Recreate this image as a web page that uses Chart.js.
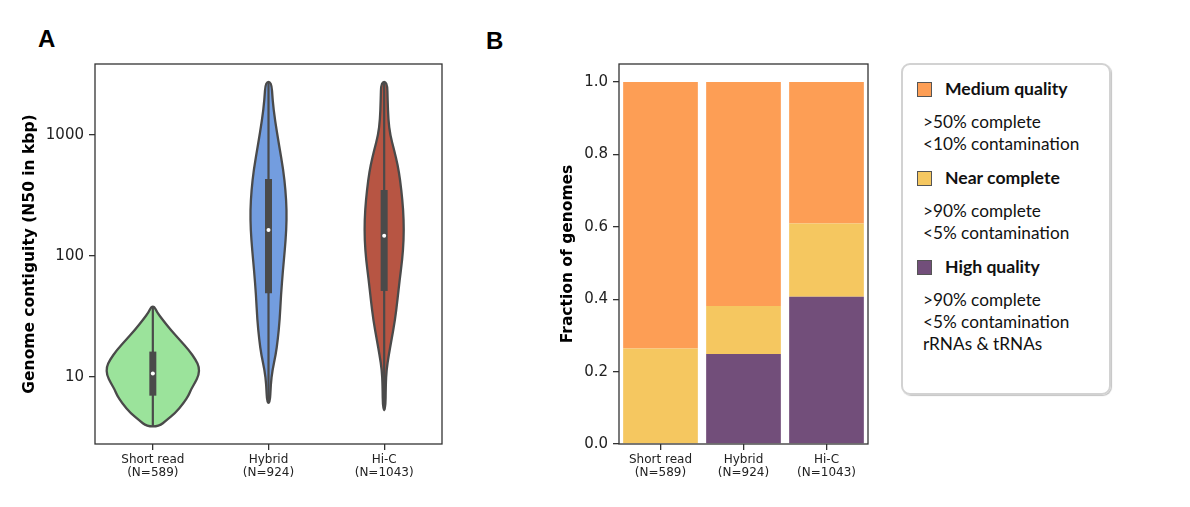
<!DOCTYPE html>
<html><head><meta charset="utf-8">
<script src="https://cdn.jsdelivr.net/npm/chart.js@4/dist/chart.umd.min.js"></script>
<style>
html,body{margin:0;padding:0;background:#fff;width:1190px;height:507px;overflow:hidden;position:relative;}
#wrapA{position:absolute;left:0;top:0;width:460px;height:507px;}
#wrapB{position:absolute;left:470px;top:0;width:420px;height:507px;}
.plabel{position:absolute;font-family:"Liberation Sans",Arial,sans-serif;font-weight:bold;font-size:24px;line-height:24px;color:#000;}
#legend{position:absolute;left:901px;top:63px;width:210px;height:332px;border:2px solid #d2d2d2;border-radius:9px;box-sizing:border-box;box-shadow:1px 1px 1px #c4c4c4;font-family:Lato,"Open Sans",sans-serif;color:#111;padding-top:13px;}
.litem{margin-top:12px;}
.litem:first-child{margin-top:0;}
.lhead{position:relative;height:22px;line-height:22px;font-weight:bold;font-size:17.6px;padding-left:42px;white-space:nowrap;}
.lsw{position:absolute;left:14px;top:4px;width:13px;height:13px;border:1px solid #555;}
.lnotes{margin-top:11px;padding-left:20px;font-size:17.2px;line-height:22px;white-space:nowrap;}
</style></head>
<body>
<div class="plabel" style="left:38px;top:27px;">A</div>
<div class="plabel" style="left:486px;top:29px;">B</div>
<div id="wrapA"><canvas id="chartA" width="460" height="507"></canvas></div>
<div id="wrapB"><canvas id="chartB" width="420" height="507"></canvas></div>
<div id="legend"></div>
<script>
// ---------- Panel A data (violin outlines) ----------
const violinCategories = ['Short read', 'Hybrid', 'Hi-C'];
const genomeCounts = [589, 924, 1043];

// N50 levels (kbp) along each violin, top to bottom, and half-widths (category units)
const shortReadN50 = [38.2, 34.4, 29.6, 24.4, 20.2, 16.7, 13.8, 12.1, 10.4, 8.9, 7.8, 7.1, 6.1, 5.0, 4.4, 3.9];
const shortReadWidth = [0.013, 0.035, 0.086, 0.156, 0.233, 0.311, 0.372, 0.400, 0.398, 0.363, 0.328, 0.311, 0.268, 0.190, 0.121, 0.052];

const hybridN50 = [2755, 1946, 1331, 827, 514, 351, 240, 164, 112, 76.6, 47.6, 29.6, 20.2, 15.2, 11.4, 8.6, 6.1];
const hybridWidth = [0.026, 0.035, 0.056, 0.091, 0.128, 0.147, 0.157, 0.154, 0.141, 0.125, 0.108, 0.097, 0.080, 0.062, 0.034, 0.019, 0.013];

const hicN50 = [2755, 1946, 1331, 1000, 752, 565, 425, 290, 199, 136, 92.7, 63.4, 43.3, 29.6, 20.2, 15.2, 11.4, 8.6, 5.3];
const hicWidth = [0.026, 0.030, 0.036, 0.052, 0.086, 0.117, 0.138, 0.158, 0.169, 0.169, 0.156, 0.134, 0.115, 0.094, 0.063, 0.040, 0.020, 0.014, 0.011];

const boxQ1 = [7.0, 49.2, 51.4];
const boxMedian = [10.7, 164, 147];
const boxQ3 = [16.2, 433, 351];
const yTicksA = [10, 100, 1000];

// ---------- Panel B data ----------
const qualityLabels = ['High quality', 'Near complete', 'Medium quality'];
const highQuality = [0.000, 0.249, 0.407];
const nearComplete = [0.264, 0.132, 0.202];
const mediumQuality = [0.736, 0.619, 0.391];
const yTicksB = [0.0, 0.2, 0.4, 0.6, 0.8, 1.0];

const legendOrder = ['Medium quality', 'Near complete', 'High quality'];
const legendNotes = [
  ['>50% complete', '<10% contamination'],
  ['>90% complete', '<5% contamination'],
  ['>90% complete', '<5% contamination', 'rRNAs & tRNAs']
];

// ---------- styles ----------
const violinColors = ['#9be39b', '#739ddf', '#b75543'];
const edgeColor = '#4a4a4a';
const qualityColors = {'High quality': '#724e7a', 'Near complete': '#f5c760', 'Medium quality': '#fd9e55'};
const tickFont = {family: 'DejaVu Sans', size: 15};
const catFont = {family: 'DejaVu Sans', size: 12, lineHeight: 1.1};
const titleFont = {family: 'DejaVu Sans', size: 15.5, weight: 'bold'};

const framePlugin = {
  id: 'frame',
  afterDatasetsDraw(chart) {
    const {ctx, chartArea: a} = chart;
    ctx.save();
    ctx.strokeStyle = '#333';
    ctx.lineWidth = 1.3;
    ctx.strokeRect(a.left, a.top, a.right - a.left, a.bottom - a.top);
    ctx.restore();
  }
};

const violinPlugin = {
  id: 'violinShape',
  beforeDatasetDraw(chart, args) {
    const ds = chart.data.datasets[args.index];
    if (!ds.violinFill) return;
    const pts = args.meta.data;
    const n = pts.length;
    const ctx = chart.ctx;
    const mid = (p, q) => ({x: (p.x + q.x) / 2, y: (p.y + q.y) / 2});
    ctx.save();
    ctx.beginPath();
    const m0 = mid(pts[n - 1], pts[0]);
    ctx.moveTo(m0.x, m0.y);
    for (let i = 0; i < n; i++) {
      const p = pts[i], q = pts[(i + 1) % n];
      const mm = mid(p, q);
      ctx.quadraticCurveTo(p.x, p.y, mm.x, mm.y);
    }
    ctx.closePath();
    ctx.fillStyle = ds.violinFill;
    ctx.fill();
    ctx.lineWidth = ds.borderWidth;
    ctx.strokeStyle = ds.borderColor;
    ctx.lineJoin = 'round';
    ctx.stroke();
    ctx.restore();
    return false;
  }
};

function outline(center, levels, widths) {
  const right = levels.map((y, i) => ({x: center + widths[i], y}));
  const left = levels.map((y, i) => ({x: center - widths[i], y})).reverse();
  return right.concat(left);
}

const violinSeries = [[shortReadN50, shortReadWidth], [hybridN50, hybridWidth], [hicN50, hicWidth]];
const datasetsA = [];
violinSeries.forEach(([lv, wd], i) => {
  datasetsA.push({label: violinCategories[i] + ' violin', data: outline(i, lv, wd), violinFill: violinColors[i],
    borderColor: edgeColor, borderWidth: 2.3, pointRadius: 0, order: 3});
  datasetsA.push({label: violinCategories[i] + ' whisker', data: [{x: i, y: lv[lv.length - 1]}, {x: i, y: lv[0]}],
    borderColor: edgeColor, borderWidth: 2.2, pointRadius: 0, order: 2});
  datasetsA.push({label: violinCategories[i] + ' box', data: [{x: i, y: boxQ1[i]}, {x: i, y: boxQ3[i]}],
    borderColor: edgeColor, borderWidth: 7, borderCapStyle: 'butt', pointRadius: 0, order: 1});
  datasetsA.push({label: violinCategories[i] + ' median', data: [{x: i, y: boxMedian[i]}], showLine: false,
    pointRadius: 2, pointBackgroundColor: '#fff', pointBorderWidth: 0, borderColor: '#fff', order: 0});
});

new Chart(document.getElementById('chartA'), {
  type: 'line',
  data: {datasets: datasetsA},
  plugins: [violinPlugin, framePlugin],
  options: {
    responsive: false, animation: false, devicePixelRatio: 1,
    layout: {padding: {left: 17, right: 18, top: 64, bottom: 0}},
    plugins: {legend: {display: false}, tooltip: {enabled: false}},
    scales: {
      x: {
        type: 'linear', min: -0.5, max: 2.5,
        afterBuildTicks: s => { s.ticks = [0, 1, 2].map(v => ({value: v})); },
        afterFit: s => { s.height = 63; },
        ticks: {font: catFont, color: '#222', padding: 3, maxRotation: 0, autoSkip: false,
          callback: v => [violinCategories[v], '(N=' + genomeCounts[v] + ')']},
        grid: {display: true, drawOnChartArea: false, drawTicks: true, tickLength: 6, color: '#333', lineWidth: 1.3},
        border: {display: false}
      },
      y: {
        type: 'logarithmic', min: 2.79, max: 3865,
        afterBuildTicks: s => { s.ticks = yTicksA.map(v => ({value: v})); },
        afterFit: s => { s.width = 78; },
        ticks: {font: tickFont, color: '#222', padding: 5, callback: v => String(v)},
        grid: {display: true, drawOnChartArea: false, drawTicks: true, tickLength: 6, color: '#333', lineWidth: 1.3},
        border: {display: false},
        title: {display: true, text: 'Genome contiguity (N50 in kbp)', font: titleFont, color: '#000', padding: {top: 4, bottom: 4}}
      }
    }
  }
});

// ---------- Chart B ----------
const seriesB = {'High quality': highQuality, 'Near complete': nearComplete, 'Medium quality': mediumQuality};
new Chart(document.getElementById('chartB'), {
  type: 'bar',
  data: {
    labels: violinCategories.map((c, i) => [c, '(N=' + genomeCounts[i] + ')']),
    datasets: qualityLabels.map(q => ({label: q, data: seriesB[q], backgroundColor: qualityColors[q],
      borderWidth: 0, barPercentage: 0.9, categoryPercentage: 1.0}))
  },
  plugins: [framePlugin],
  options: {
    responsive: false, animation: false, devicePixelRatio: 1,
    layout: {padding: {left: 85, right: 22, top: 64, bottom: 0}},
    plugins: {legend: {display: false}, tooltip: {enabled: false}},
    scales: {
      x: {
        stacked: true,
        afterFit: s => { s.height = 63; },
        ticks: {font: catFont, color: '#222', padding: 3, maxRotation: 0, autoSkip: false},
        grid: {display: true, offset: false, drawOnChartArea: false, drawTicks: true, tickLength: 6, color: '#333', lineWidth: 1.3},
        border: {display: false}
      },
      y: {
        stacked: true, min: 0, max: 1.05,
        afterBuildTicks: s => { s.ticks = yTicksB.map(v => ({value: v})); },
        afterFit: s => { s.width = 64; },
        ticks: {font: tickFont, color: '#222', padding: 5, callback: v => Number(v).toFixed(1)},
        grid: {display: true, drawOnChartArea: false, drawTicks: true, tickLength: 6, color: '#333', lineWidth: 1.3},
        border: {display: false},
        title: {display: true, text: 'Fraction of genomes', font: titleFont, color: '#000', padding: {top: 4, bottom: 4}}
      }
    }
  }
});

// ---------- Legend (HTML text) ----------
const legendEl = document.getElementById('legend');
legendOrder.forEach((q, i) => {
  const item = document.createElement('div');
  item.className = 'litem';
  const head = document.createElement('div');
  head.className = 'lhead';
  const sw = document.createElement('span');
  sw.className = 'lsw';
  sw.style.background = qualityColors[q];
  head.appendChild(sw);
  head.appendChild(document.createTextNode(q));
  item.appendChild(head);
  const notes = document.createElement('div');
  notes.className = 'lnotes';
  legendNotes[i].forEach(t => { const d = document.createElement('div'); d.textContent = t; notes.appendChild(d); });
  item.appendChild(notes);
  legendEl.appendChild(item);
});
</script>
</body></html>
